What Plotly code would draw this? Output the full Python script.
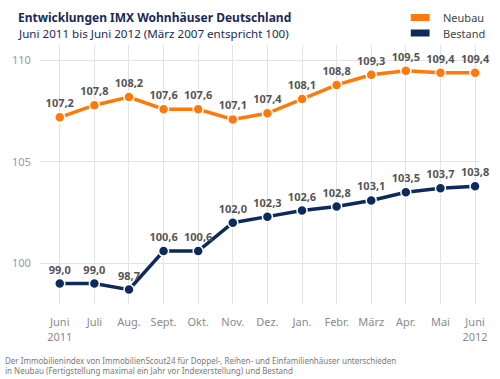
import plotly.graph_objects as go

months = ["Juni<br>2011", "Juli", "Aug.", "Sept.", "Okt.", "Nov.", "Dez.", "Jan.",
          "Febr.", "März", "Apr.", "Mai", "Juni<br>2012"]
neubau = [107.2, 107.8, 108.2, 107.6, 107.6, 107.1, 107.4, 108.1, 108.8, 109.3, 109.5, 109.4, 109.4]
bestand = [99.0, 99.0, 98.7, 100.6, 100.6, 102.0, 102.3, 102.6, 102.8, 103.1, 103.5, 103.7, 103.8]
y_ticks = [100, 105, 110]

ORANGE = "#FF7A0A"
NAVY = "#0C2A5C"
FONT = "Noto Sans"

x = list(range(len(months)))


def fmt(v):
    return f"{v:.1f}".replace(".", ",")


fig = go.Figure()
for vals, col in [(neubau, ORANGE), (bestand, NAVY)]:
    # white halo
    fig.add_trace(go.Scatter(x=x, y=vals, mode="lines", line=dict(color="white", width=6),
                             hoverinfo="skip", showlegend=False))
    fig.add_trace(go.Scatter(
        x=x, y=vals, mode="lines+markers+text",
        line=dict(color=col, width=3.5),
        marker=dict(size=10, color=col, line=dict(color="white", width=1.5)),
        text=[fmt(v) for v in vals], textposition="top center",
        textfont=dict(family=FONT, size=11, color="#555555", weight="bold"),
        cliponaxis=False, showlegend=False))

fig.update_layout(
    width=500, height=379,
    margin=dict(l=40, r=16, t=45, b=75),
    paper_bgcolor="white", plot_bgcolor="white",
    font=dict(family=FONT),
    xaxis=dict(range=[-0.571, 12.114], tickvals=x, ticktext=months,
               showgrid=True, gridcolor="#e3e3e3", gridwidth=1, zeroline=False,
               showline=False, ticks="outside", ticklen=8, tickcolor="rgba(0,0,0,0)",
               tickfont=dict(family=FONT, size=11, color="#8a8a8a")),
    yaxis=dict(range=[97.99, 110.77], tickvals=y_ticks, ticktext=[str(t) for t in y_ticks],
               showgrid=True, gridcolor="#e3e3e3", gridwidth=1, zeroline=False,
               showline=False, ticks="outside", ticklen=6, tickcolor="rgba(0,0,0,0)",
               tickfont=dict(family=FONT, size=11, color="#999999")),
)

# titles
fig.add_annotation(text="<b>Entwicklungen IMX Wohnhäuser Deutschland</b>", xref="paper", yref="paper",
                   x=-40/444, y=1 + (45-17)/259, xanchor="left", yanchor="middle", showarrow=False,
                   font=dict(family=FONT, size=12, color="#1B2A55"), xshift=16)
fig.add_annotation(text="Juni 2011 bis Juni 2012 (März 2007 entspricht 100)", xref="paper", yref="paper",
                   x=-40/444, y=1 + (45-33)/259, xanchor="left", yanchor="middle", showarrow=False,
                   font=dict(family=FONT, size=11.6, color="#1B2A55"), xshift=16)

# legend
for i, (name, col) in enumerate([("Neubau", ORANGE), ("Bestand", NAVY)]):
    yc = 17.5 + i * 15.5
    fig.add_shape(type="rect", xref="paper", yref="paper",
                  x0=(415-40)/444, x1=(434-40)/444,
                  y0=(304 - (yc - 3.5))/259, y1=(304 - (yc + 3.5))/259,
                  fillcolor=col, line=dict(width=0))
    fig.add_annotation(text=name, xref="paper", yref="paper", x=(446-40)/444, y=(304 - yc)/259,
                       xanchor="left", yanchor="middle", showarrow=False,
                       font=dict(family=FONT, size=11, color="#444444"))

# footer
fig.add_annotation(text="Der Immobilienindex von ImmobilienScout24 für Doppel-, Reihen- und Einfamilienhäuser unterschieden<br>"
                        "in Neubau (Fertigstellung maximal ein Jahr vor Indexerstellung) und Bestand",
                   xref="paper", yref="paper", x=(3-40)/444, y=(304-365)/259, xanchor="left", yanchor="middle",
                   align="left", showarrow=False,
                   font=dict(family=FONT, size=8, color="#7a7a7a"))

fig.write_html("out.html", config={"displayModeBar": False},
               post_script="document.body.style.margin='0';document.body.style.overflow='hidden';")
